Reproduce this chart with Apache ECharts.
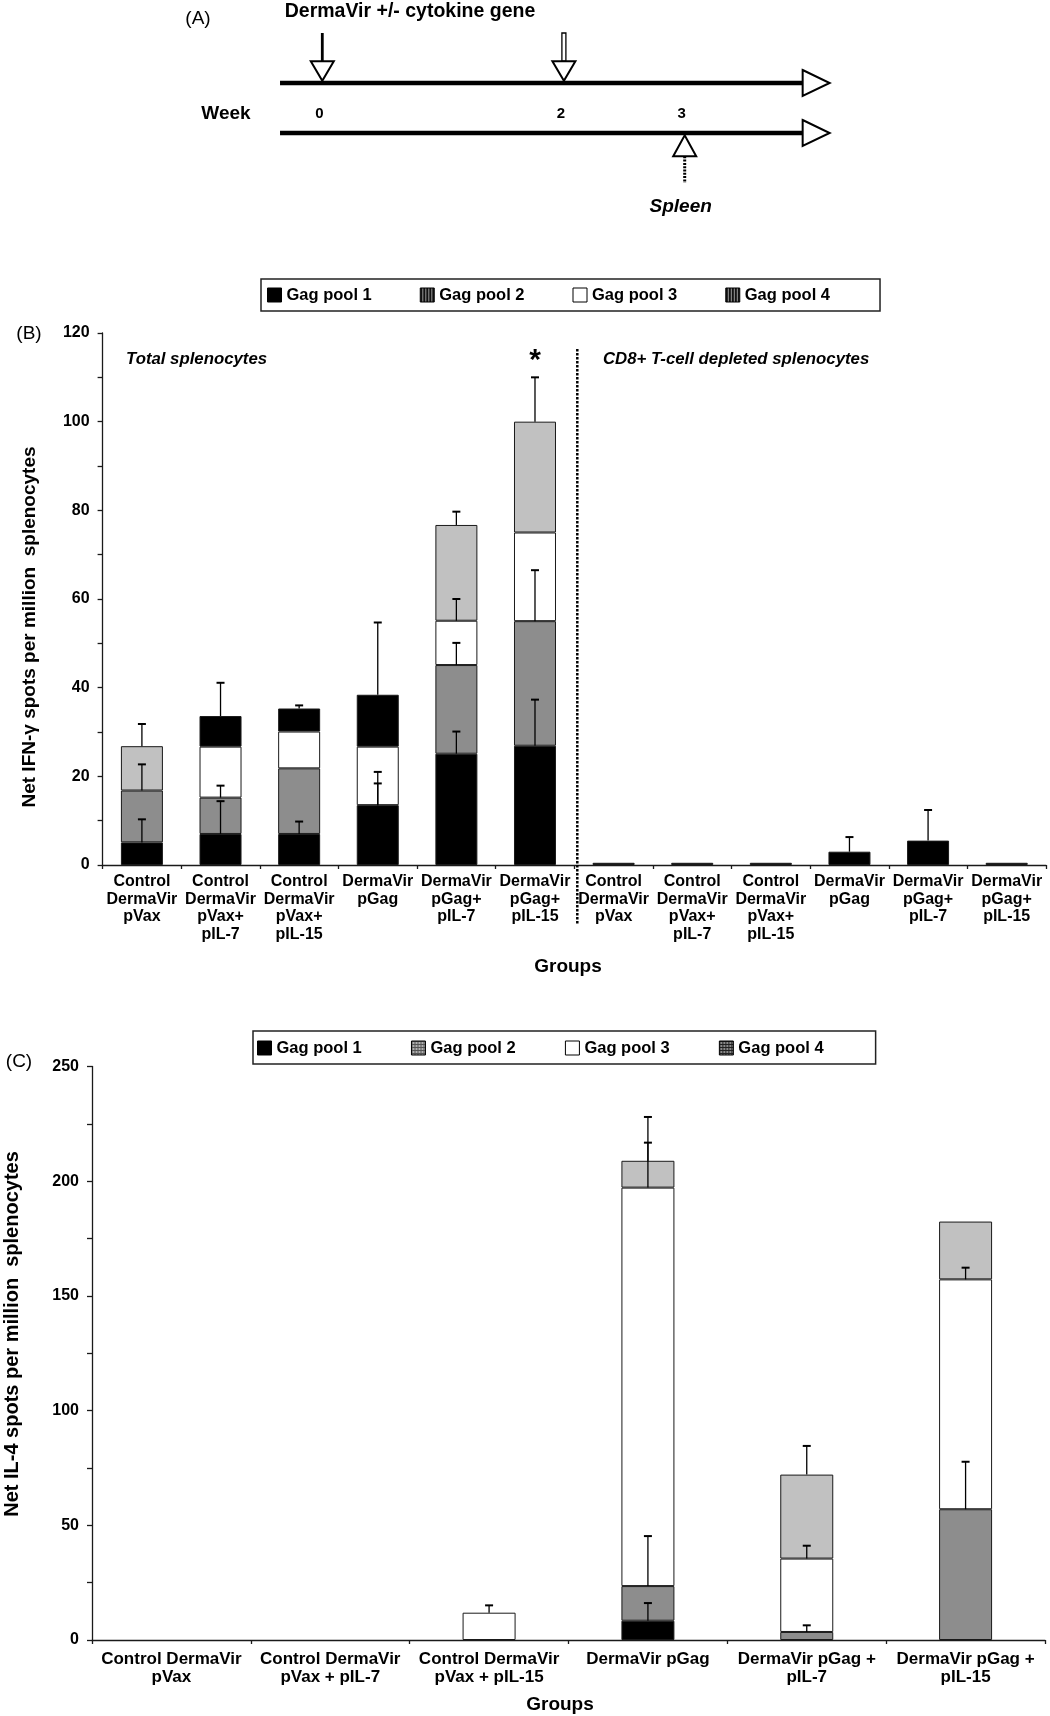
<!DOCTYPE html>
<html><head><meta charset="utf-8">
<script src="https://cdn.jsdelivr.net/npm/echarts@6/dist/echarts.min.js"></script>
<style>html,body{margin:0;padding:0;background:#fff}#c{width:1050px;height:1716px}</style>
</head><body><div id="c"></div>
<script>
// ================= DATA =================
// Panel A – schedule
const weekTicks = [0, 2, 3];
const injectionWeeks = [0, 2];
const harvestWeeks = [3];
const timelineRows = [2, 1];

// Series names
const poolNames = ['Gag pool 1', 'Gag pool 2', 'Gag pool 3', 'Gag pool 4'];

// Panel B – IFN-gamma ELISPOT
const groupsB = [
  'Control\nDermaVir\npVax', 'Control\nDermaVir\npVax+\npIL-7', 'Control\nDermaVir\npVax+\npIL-15',
  'DermaVir\npGag', 'DermaVir\npGag+\npIL-7', 'DermaVir\npGag+\npIL-15',
  'Control\nDermaVir\npVax', 'Control\nDermaVir\npVax+\npIL-7', 'Control\nDermaVir\npVax+\npIL-15',
  'DermaVir\npGag', 'DermaVir\npGag+\npIL-7', 'DermaVir\npGag+\npIL-15'
];
const ifnPool1 = [5.1, 7.0, 7.0, 13.5, 25.1, 26.9, 0.5, 0.5, 0.5, 3.0, 5.5, 0.5];
const ifnPool2 = [11.7, 8.2, 14.8, 0, 20.0, 28.1, 0, 0, 0, 0, 0, 0];
const ifnPool3 = [0, 11.5, 8.3, 13.2, 10.0, 20.0, 0, 0, 0, 0, 0, 0];
const ifnPool4 = [10.0, 6.9, 5.2, 11.7, 21.6, 25.0, 0, 0, 0, 0, 0, 0];
const ifnErr1 = [5.2, 7.4, 2.8, 4.9, 5.0, 10.4, 0, 0, 0, 3.3, 6.9, 0];
const ifnErr2 = [5.9, 2.7, 0, 7.5, 5.0, 11.5, 0, 0, 0, 0, 0, 0];
const ifnErr3 = [0, 0, 0, 0, 4.9, 0, 0, 0, 0, 0, 0, 0];
const ifnErr4 = [5.0, 7.5, 0.7, 16.3, 3.0, 10.0, 0, 0, 0, 0, 0, 0];
const ifnSignificantGroup = 5;
const ifnTicks = [0, 20, 40, 60, 80, 100, 120];

// Panel C – IL-4 ELISPOT
const groupsC = [
  'Control DermaVir\npVax', 'Control DermaVir\npVax + pIL-7', 'Control DermaVir\npVax + pIL-15',
  'DermaVir pGag', 'DermaVir pGag +\npIL-7', 'DermaVir pGag +\npIL-15'
];
const il4Pool1 = [0, 0, 0, 8.4, 0, 0];
const il4Pool2 = [0, 0, 0, 15.1, 3.5, 57.0];
const il4Pool3 = [0, 0, 11.9, 173.7, 32.0, 100.2];
const il4Pool4 = [0, 0, 0, 11.7, 36.6, 25.2];
const il4Err1 = [0, 0, 0, 7.7, 0, 0];
const il4Err2 = [0, 0, 0, 21.8, 2.9, 20.7];
const il4Err3 = [0, 0, 3.2, 19.6, 5.6, 5.1];
const il4Err4 = [0, 0, 0, 19.1, 12.5, 0];
const il4Ticks = [0, 50, 100, 150, 200, 250];

// ================= STYLE =================
const FONT = '"Liberation Sans", Arial, Helvetica, sans-serif';
const barColors = ['#000000', '#8d8d8d', '#ffffff', '#c1c1c1'];
const ifnPool4BlackGroups = [1, 2, 3]; // top segment drawn black in the original figure
const TL_START = -0.35, TL_END = 4.2;

function pattern(w, h, draw) {
  const cv = document.createElement('canvas'); cv.width = w; cv.height = h;
  const ctx = cv.getContext('2d'); draw(ctx);
  return { image: cv, repeat: 'repeat' };
}
const stripes = pattern(3, 3, ctx => { ctx.fillStyle = '#9a9a9a'; ctx.fillRect(0,0,3,3); ctx.fillStyle = '#111'; ctx.fillRect(0,0,2,3); });
const gridLight = pattern(3, 3, ctx => { ctx.fillStyle = '#b0b0b0'; ctx.fillRect(0,0,3,3); ctx.fillStyle = '#555'; ctx.fillRect(0,0,3,1); ctx.fillRect(0,0,1,3); });
const gridDark = pattern(3, 3, ctx => { ctx.fillStyle = '#8a8a8a'; ctx.fillRect(0,0,3,3); ctx.fillStyle = '#222'; ctx.fillRect(0,0,3,1); ctx.fillRect(0,0,1,3); });
const legendFillsB = ['#000', stripes, '#fff', stripes];
const legendFillsC = ['#000', gridLight, '#fff', gridDark];

const chart = echarts.init(document.getElementById('c'), null, { renderer: 'canvas', width: 1050, height: 1716 });

const ifnPools = [ifnPool1, ifnPool2, ifnPool3, ifnPool4];
const ifnErrs = [ifnErr1, ifnErr2, ifnErr3, ifnErr4];
const il4Pools = [il4Pool1, il4Pool2, il4Pool3, il4Pool4];
const il4Errs = [il4Err1, il4Err2, il4Err3, il4Err4];

function cum(pools, k, i) { let s = 0; for (let j = 0; j <= k; j++) s += pools[j][i]; return s; }

const series = [];
function addBars(pools, axisIdx, stack, barWidth, blackOverride) {
  pools.forEach((vals, k) => {
    series.push({
      type: 'bar', name: poolNames[k], stack: stack, xAxisIndex: axisIdx, yAxisIndex: axisIdx,
      barWidth: barWidth, animation: false, silent: true,
      itemStyle: { color: barColors[k], borderColor: '#1a1a1a', borderWidth: 1 },
      data: vals.map((v, i) => {
        if (v === 0) return '-';
        return (blackOverride && k === 3 && blackOverride.includes(i)) ? { value: v, itemStyle: { color: '#000' } } : v;
      })
    });
  });
}
function addErrors(pools, errs, axisIdx) {
  pools.forEach((vals, k) => {
    const data = [];
    vals.forEach((v, i) => { if (errs[k][i] > 0) { const c = cum(pools, k, i); data.push([i, c, c + errs[k][i]]); } });
    series.push({
      type: 'custom', xAxisIndex: axisIdx, yAxisIndex: axisIdx, z: 5, silent: true, animation: false,
      encode: { x: 0, y: [1, 2] }, data: data,
      renderItem: (params, api) => {
        const x = api.value(0);
        const a = api.coord([x, api.value(1)]), b = api.coord([x, api.value(2)]);
        return { type: 'group', children: [
          { type: 'line', shape: { x1: a[0], y1: a[1], x2: b[0], y2: b[1] }, style: { stroke: '#000', lineWidth: 1.3 } },
          { type: 'line', shape: { x1: b[0] - 4, y1: b[1], x2: b[0] + 4, y2: b[1] }, style: { stroke: '#000', lineWidth: 2 } }
        ] };
      }
    });
  });
}
addBars(ifnPools, 0, 'B', 42, ifnPool4BlackGroups);
addBars(il4Pools, 1, 'C', 53, null);
addErrors(ifnPools, ifnErrs, 0);
addErrors(il4Pools, il4Errs, 1);

// separator between total and CD8-depleted groups (panel B)
series.push({
  type: 'custom', xAxisIndex: 0, yAxisIndex: 0, z: 6, silent: true, animation: false,
  data: [[groupsB.length / 2 - 1, 116.4, -13.5]], encode: { x: 0, y: [1, 2] },
  renderItem: (params, api) => {
    const bw = api.size([1, 0])[0];
    const a = api.coord([api.value(0), api.value(1)]), b = api.coord([api.value(0), api.value(2)]);
    const x = a[0] + bw / 2 + 3;
    return { type: 'line', shape: { x1: x, y1: a[1], x2: x, y2: b[1] }, style: { stroke: '#000', lineWidth: 2.5, lineDash: [2.5, 1.5] } };
  }
});
// significance asterisk
series.push({
  type: 'custom', xAxisIndex: 0, yAxisIndex: 0, z: 6, silent: true, animation: false,
  data: [[ifnSignificantGroup, cum(ifnPools, 3, ifnSignificantGroup) + ifnErr4[ifnSignificantGroup]]],
  encode: { x: 0, y: 1 },
  renderItem: (params, api) => {
    const p = api.coord([api.value(0), api.value(1)]);
    return { type: 'text', style: { text: '*', x: p[0], y: p[1] - 17, align: 'center', verticalAlign: 'middle', font: 'bold 30px ' + FONT, fill: '#000' } };
  }
});

// Panel A schematic
series.push({
  type: 'custom', xAxisIndex: 2, yAxisIndex: 2, silent: true, animation: false,
  data: timelineRows.map(r => [0, r]), encode: { x: 0, y: 1 },
  renderItem: (params, api) => {
    const row = api.value(1);
    const a = api.coord([TL_START, row]), b = api.coord([TL_END, row]);
    const head = 27, hh = 13;
    return { type: 'group', children: [
      { type: 'line', shape: { x1: a[0], y1: a[1], x2: b[0] - head, y2: b[1] }, style: { stroke: '#000', lineWidth: 4.6 } },
      { type: 'polygon', shape: { points: [[b[0] - head, b[1] - hh], [b[0], b[1]], [b[0] - head, b[1] + hh]] }, style: { fill: '#fff', stroke: '#000', lineWidth: 2 } }
    ] };
  }
});
series.push({
  type: 'custom', xAxisIndex: 2, yAxisIndex: 2, silent: true, animation: false,
  data: injectionWeeks.map(w => [w, timelineRows[0]]), encode: { x: 0, y: 1 },
  renderItem: (params, api) => {
    const p = api.coord([api.value(0), api.value(1)]);
    const top = api.coord([api.value(0), api.value(1) + 1])[1];
    const tip = p[1] - 2.3, base = tip - 19.5, x = p[0];
    const shaft = params.dataIndex === 0
      ? { type: 'line', shape: { x1: x, y1: top, x2: x, y2: base }, style: { stroke: '#000', lineWidth: 2.8 } }
      : { type: 'rect', shape: { x: x - 2, y: top, width: 4, height: base - top }, style: { fill: '#fff', stroke: '#000', lineWidth: 1.3 } };
    return { type: 'group', children: [shaft,
      { type: 'polygon', shape: { points: [[x - 11.5, base], [x + 11.5, base], [x, tip]] }, style: { fill: '#fff', stroke: '#000', lineWidth: 2 } }
    ] };
  }
});
series.push({
  type: 'custom', xAxisIndex: 2, yAxisIndex: 2, silent: true, animation: false,
  data: harvestWeeks.map(w => [w, timelineRows[1]]), encode: { x: 0, y: 1 },
  renderItem: (params, api) => {
    const p = api.coord([api.value(0), api.value(1)]);
    const bottom = api.coord([api.value(0), api.value(1) - 1])[1];
    const tip = p[1] + 2.3, base = tip + 21, x = p[0];
    return { type: 'group', children: [
      { type: 'line', shape: { x1: x, y1: base, x2: x, y2: bottom }, style: { stroke: '#000', lineWidth: 3, lineDash: [2, 1.3] } },
      { type: 'polygon', shape: { points: [[x - 11.5, base], [x + 11.5, base], [x, tip]] }, style: { fill: '#fff', stroke: '#000', lineWidth: 2 } },
      { type: 'text', style: { text: 'Spleen', x: x - 4, y: bottom + 24, align: 'center', verticalAlign: 'middle', font: 'italic bold 19px ' + FONT, fill: '#000' } }
    ] };
  }
});
series.push({
  type: 'custom', xAxisIndex: 2, yAxisIndex: 2, silent: true, animation: false,
  data: weekTicks.map(w => [w, (timelineRows[0] + timelineRows[1]) / 2]), encode: { x: 0, y: 1 },
  renderItem: (params, api) => {
    const p = api.coord([api.value(0), api.value(1)]);
    return { type: 'text', style: { text: String(api.value(0)), x: p[0] - 3, y: p[1] + 6, align: 'center', verticalAlign: 'middle', font: 'bold 15px ' + FONT, fill: '#000' } };
  }
});

const axisLineStyle = { show: true, lineStyle: { color: '#1a1a1a', width: 1.3 } };
const tickLabel = { fontSize: 16, fontWeight: 'bold', color: '#000', fontFamily: FONT };

function legendFor(fills, left, top, gap, padding) {
  return {
    left: left, top: top, orient: 'horizontal', selectedMode: false,
    itemWidth: 14, itemHeight: 14, itemGap: gap, padding: padding,
    borderColor: '#222', borderWidth: 1.5, backgroundColor: '#fff',
    textStyle: { fontSize: 16.5, fontWeight: 'bold', color: '#000', fontFamily: FONT, lineHeight: 18 },
    data: poolNames.map((n, i) => ({ name: n, icon: 'rect', itemStyle: { color: fills[i], borderColor: '#000', borderWidth: 1 } }))
  };
}

function gtext(text, x, y, font, opts) {
  return Object.assign({ type: 'text', x: x, y: y, silent: true,
    style: { text: text, font: font, fill: '#000', textAlign: 'center', textVerticalAlign: 'middle' } }, opts || {});
}
function ltext(text, x, y, font) {
  return { type: 'text', x: x, y: y, silent: true,
    style: { text: text, font: font, fill: '#000', textAlign: 'left', textVerticalAlign: 'middle' } };
}

const option = {
  backgroundColor: '#fff',
  animation: false,
  grid: [
    { left: 102.6, right: 4, top: 333, height: 532 },
    { left: 92, right: 5, top: 1066.5, height: 573.5 },
    { left: 261.9, right: 184.1, top: 33, height: 150, show: false }
  ],
  xAxis: [
    { gridIndex: 0, type: 'category', data: groupsB, axisLine: axisLineStyle,
      axisTick: { show: true, length: 4, lineStyle: { color: '#1a1a1a', width: 1.3 } },
      axisLabel: Object.assign({ interval: 0, margin: 8, lineHeight: 17.5 }, tickLabel) },
    { gridIndex: 1, type: 'category', data: groupsC, axisLine: axisLineStyle,
      axisTick: { show: true, length: 4, lineStyle: { color: '#1a1a1a', width: 1.3 } },
      axisLabel: Object.assign({}, tickLabel, { interval: 0, margin: 11, lineHeight: 17.5, fontSize: 17 }) },
    { gridIndex: 2, type: 'value', min: -0.5, max: 4.5, show: false }
  ],
  yAxis: [
    { gridIndex: 0, type: 'value', min: 0, max: 120, interval: 10, axisLine: axisLineStyle,
      axisTick: { show: true, length: 5, lineStyle: { color: '#1a1a1a', width: 1.3 } }, splitLine: { show: false },
      axisLabel: Object.assign({ margin: 13, formatter: v => ifnTicks.includes(v) ? String(v) : '' }, tickLabel) },
    { gridIndex: 1, type: 'value', min: 0, max: 250, interval: 25, axisLine: axisLineStyle,
      axisTick: { show: true, length: 5, lineStyle: { color: '#1a1a1a', width: 1.3 } }, splitLine: { show: false },
      axisLabel: Object.assign({ margin: 13, formatter: v => il4Ticks.includes(v) ? String(v) : '' }, tickLabel) },
    { gridIndex: 2, type: 'value', min: 0, max: 3, show: false }
  ],
  legend: [
    legendFor(legendFillsB, 261, 279, 48, [7, 50, 7, 6]),
    legendFor(legendFillsC, 253, 1031, 49.2, [8, 52, 7, 4])
  ],
  graphic: [
    gtext('(A)', 198, 19, 'normal 19px ' + FONT),
    gtext('DermaVir +/- cytokine gene', 410, 12, 'bold 19.5px ' + FONT),
    gtext('Week', 226, 114, 'bold 19px ' + FONT),
    gtext('(B)', 29, 334, 'normal 19px ' + FONT),
    ltext('Total splenocytes', 126, 359, 'italic bold 16.8px ' + FONT),
    ltext('CD8+ T-cell depleted splenocytes', 603, 359, 'italic bold 16.8px ' + FONT),
    gtext('Net IFN-\u03b3 spots per million  splenocytes', 29.6, 627, 'bold 19px ' + FONT, { rotation: Math.PI / 2 }),
    gtext('Groups', 568, 967, 'bold 19px ' + FONT),
    gtext('(C)', 19, 1062, 'normal 19px ' + FONT),
    gtext('Net IL-4 spots per million  splenocytes', 12.5, 1334, 'bold 20px ' + FONT, { rotation: Math.PI / 2 }),
    gtext('Groups', 560, 1705, 'bold 19px ' + FONT)
  ],
  series: series
};
chart.setOption(option);
</script></body></html>
